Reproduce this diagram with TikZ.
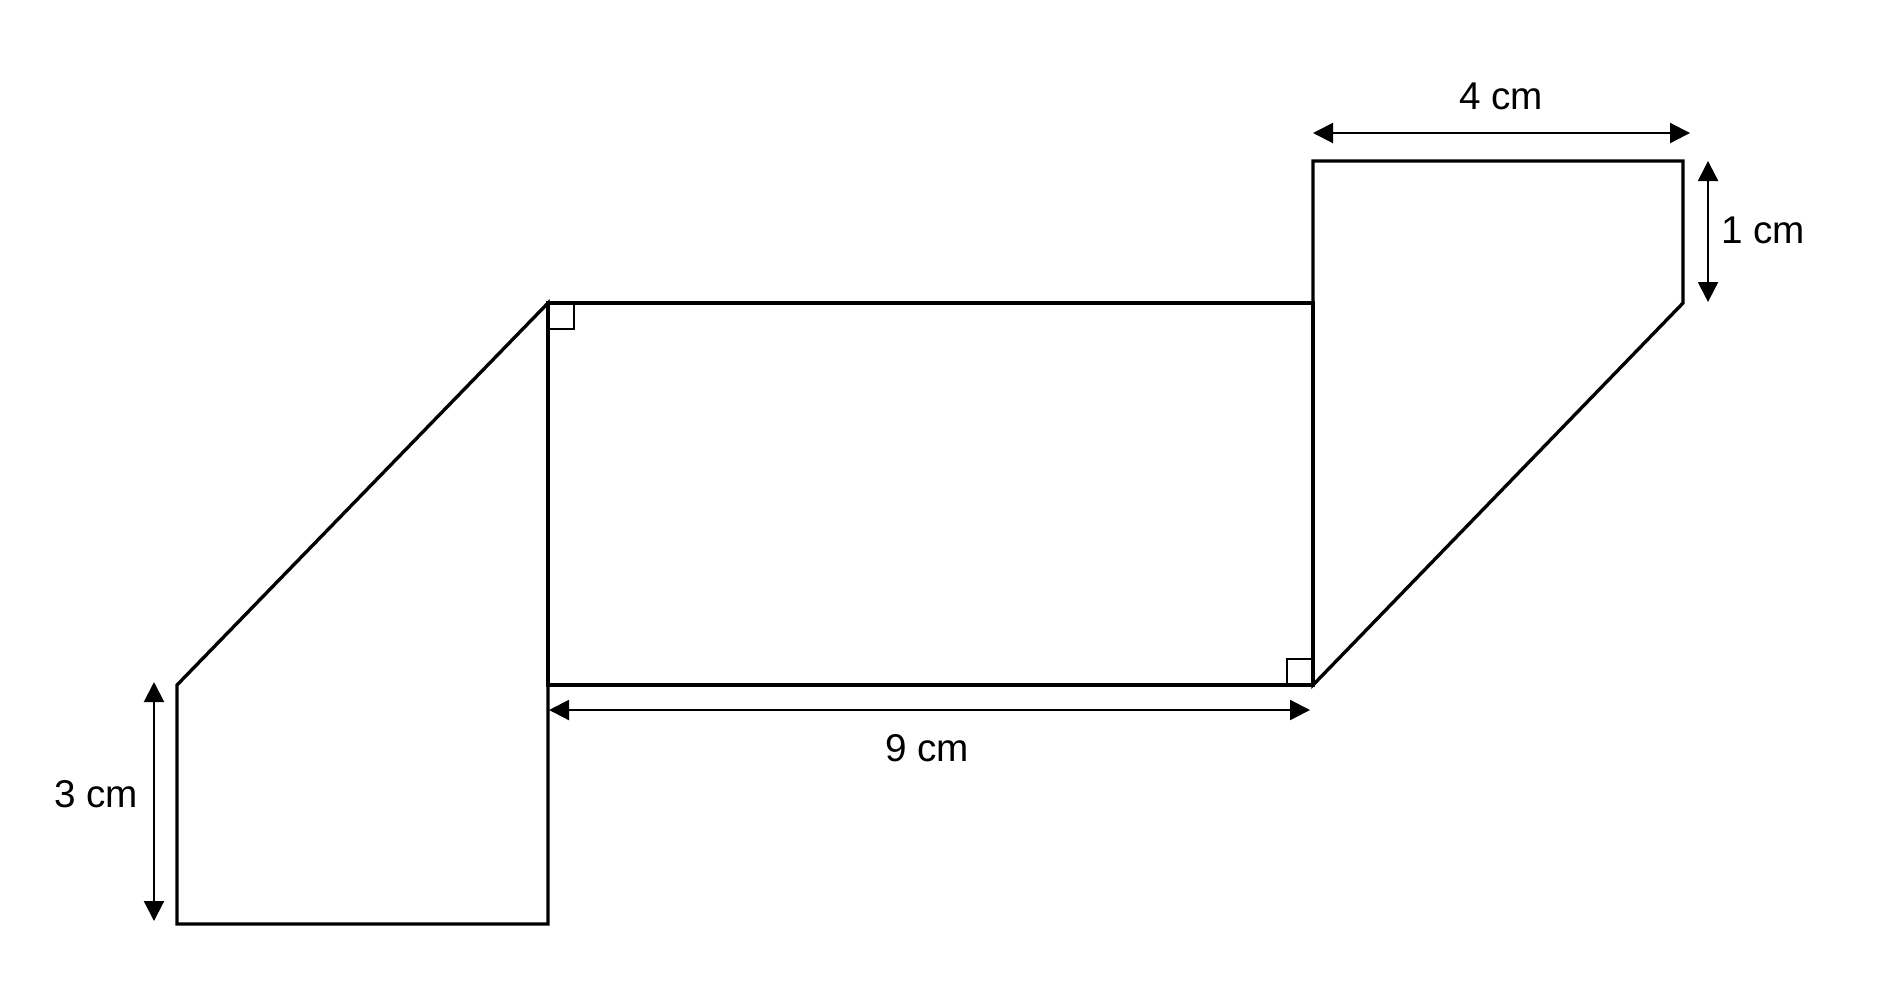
\documentclass[tikz,border=0pt]{standalone}
\usepackage{fontspec}
\setmainfont{Liberation Sans}
\usetikzlibrary{arrows.meta}

\begin{document}
\begin{tikzpicture}[x=0.01cm, y=-0.01cm, line width=0.95pt,
  dim/.style={{Triangle[length=2mm,width=2mm]}-{Triangle[length=2mm,width=2mm]}, line width=0.6pt},
  lab/.style={font=\fontsize{11}{13}\selectfont, inner sep=0pt}]
\useasboundingbox (0,0) rectangle (1886,984);
% left piece
\coordinate (A) at (177,924);
\coordinate (B) at (177,685);
\coordinate (C) at (548,303);
\coordinate (D) at (548,924);
% rectangle
\coordinate (E) at (1313,303);
\coordinate (F) at (1313,685);
\coordinate (G) at (548,685);
% right piece
\coordinate (H) at (1313,161);
\coordinate (I) at (1683,161);
\coordinate (J) at (1683,303);
% outlines
\draw (A) -- (B) -- (C) -- (D) -- cycle;
\draw (C) -- (E) -- (F) -- (G) -- cycle;
\draw (F) -- (H) -- (I) -- (J) -- cycle;
% right angles
\draw[line width=0.8pt] (C) rectangle ++(26,26);
\draw[line width=0.8pt] (F) rectangle ++(-26,-26);
% lengths
\coordinate (K) at (154,682);
\coordinate (L) at (154,921);
\draw[dim] (K) -- (L);
\node[lab] (three) at (96,794) {3 cm};
\coordinate (M) at (549,710);
\coordinate (N) at (1310,710);
\draw[dim] (M) -- (N);
\node[lab] (nine) at (927,748) {9 cm};
\coordinate (O) at (1313,133);
\coordinate (P) at (1690,133);
\draw[dim] (O) -- (P);
\node[lab] (four) at (1501,96) {4 cm};
\coordinate (Q) at (1708,161);
\coordinate (R) at (1708,302);
\draw[dim] (Q) -- (R);
\node[lab] (one) at (1763,230) {1 cm};
\end{tikzpicture}
\end{document}
